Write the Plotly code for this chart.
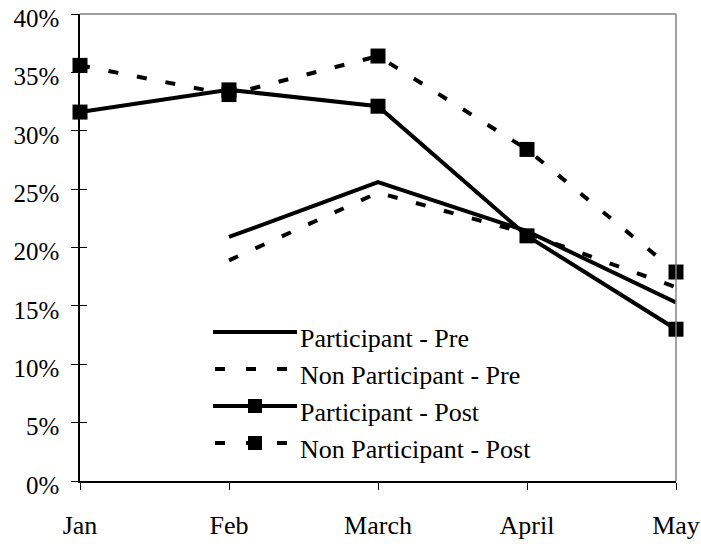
import plotly.graph_objects as go

months = ["Jan", "Feb", "March", "April", "May"]
participant_pre = [None, 20.9, 25.6, 21.4, 15.3]
non_participant_pre = [None, 18.9, 24.7, 21.2, 16.6]
participant_post = [31.6, 33.5, 32.1, 21.0, 13.0]
non_participant_post = [35.6, 33.1, 36.4, 28.4, 17.9]
y_ticks = [0, 5, 10, 15, 20, 25, 30, 35, 40]
y_tick_text = [f"{v}%" for v in y_ticks]

FONT = "Liberation Serif"
FS = 26
DASH = "10px,19px"

# plot area in pixels
L, R, T, B = 80, 676, 14, 481
W, H = 701, 548


def px(x):
    return (x - L) / (R - L)


def py(y):
    return (B - y) / (B - T)


series = [
    ("Participant - Pre", participant_pre, "solid", False),
    ("Non Participant - Pre", non_participant_pre, DASH, False),
    ("Participant - Post", participant_post, "solid", True),
    ("Non Participant - Post", non_participant_post, DASH, True),
]

fig = go.Figure()
for name, vals, dash, mk in series:
    fig.add_trace(go.Scatter(
        x=months, y=vals, name=name,
        mode="lines+markers" if mk else "lines",
        line=dict(color="black", width=4, dash=dash),
        marker=dict(symbol="square", size=15, color="black"),
        cliponaxis=False, showlegend=False, connectgaps=False,
    ))

# overlay axis for inner half of crossing y ticks
fig.add_trace(go.Scatter(x=[None], y=[None], yaxis="y2", showlegend=False, hoverinfo="skip"))

shapes = [
    dict(type="line", xref="paper", yref="paper", x0=0, x1=1, y0=1, y1=1,
         line=dict(color="#808080", width=1.5)),
    dict(type="line", xref="paper", yref="paper", x0=1, x1=1, y0=0, y1=1,
         line=dict(color="#808080", width=1.5)),
]
annotations = []

# custom legend
leg_rows = [332, 369, 406, 443]
for (name, vals, dash, mk), ry in zip(series, leg_rows):
    if dash == "solid":
        shapes.append(dict(type="line", xref="paper", yref="paper",
                           x0=px(213), x1=px(297), y0=py(ry), y1=py(ry),
                           line=dict(color="black", width=4)))
    else:
        for dx in (215, 246, 277):
            shapes.append(dict(type="line", xref="paper", yref="paper",
                               x0=px(dx), x1=px(dx + 10), y0=py(ry), y1=py(ry),
                               line=dict(color="black", width=4)))
    if mk:
        shapes.append(dict(type="rect", xref="paper", yref="paper",
                           x0=px(248), x1=px(262), y0=py(ry - 7), y1=py(ry + 7),
                           fillcolor="black", line=dict(width=0)))
    annotations.append(dict(text=name, xref="paper", yref="paper",
                            x=px(298), y=py(ry + 6), xanchor="left", yanchor="middle",
                            showarrow=False, font=dict(family=FONT, size=FS, color="black")))

fig.update_layout(
    width=W, height=H,
    margin=dict(l=L, r=W - R, t=T, b=H - B, pad=0, autoexpand=False),
    paper_bgcolor="white", plot_bgcolor="white",
    font=dict(family=FONT, size=FS, color="black"),
    xaxis=dict(type="category", range=[0, 4], showgrid=False, zeroline=False,
               showline=True, linecolor="black", linewidth=1.5, automargin=False,
               ticks="outside", ticklen=7, tickwidth=1.2, tickcolor="black",
               ticklabelstandoff=13, tickfont=dict(family=FONT, size=FS)),
    yaxis=dict(range=[0, 40], tickvals=y_ticks, ticktext=y_tick_text, automargin=False,
               showgrid=False, zeroline=False, showline=True, linecolor="black",
               linewidth=1.5, ticks="outside", ticklen=7, tickwidth=1.2,
               tickcolor="black", ticklabelstandoff=7, ticklabelshift=4,
               tickfont=dict(family=FONT, size=25)),
    yaxis2=dict(range=[0, 40], tickvals=y_ticks, overlaying="y", side="left",
                showgrid=False, zeroline=False, showline=False, showticklabels=False,
                automargin=False,
                ticks="inside", ticklen=7, tickwidth=1.2, tickcolor="black"),
    shapes=shapes, annotations=annotations,
)

fig.write_html("out.html")
